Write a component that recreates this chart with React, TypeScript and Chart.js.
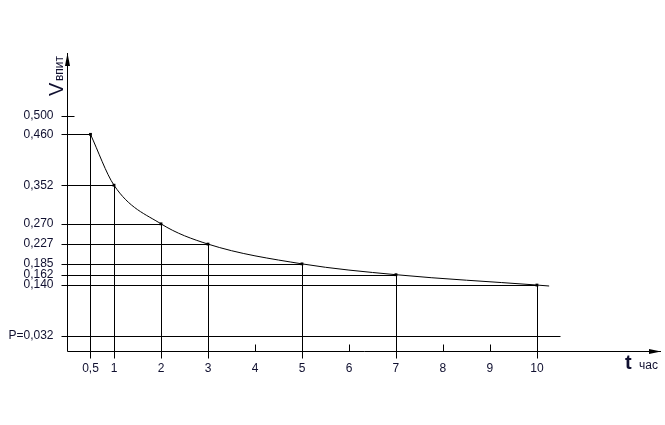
import React, { useEffect, useRef } from "react";
import { Chart, registerables } from "chart.js";

Chart.register(...registerables);

const timeValues = [0.5, 1, 2, 3, 5, 7, 10];
const rateValues = [0.46, 0.352, 0.27, 0.227, 0.185, 0.162, 0.14];
const curveTail = [10.26, 0.138];
const pValue = 0.032;
const pLineEnd = 10.5;
const yTickValues = [0.5, 0.46, 0.352, 0.27, 0.227, 0.185, 0.162, 0.14, 0.032];
const yTickLabels = ["0,500", "0,460", "0,352", "0,270", "0,227", "0,185", "0,162", "0,140", "P=0,032"];
const xTickValues = [0.5, 1, 2, 3, 4, 5, 6, 7, 8, 9, 10];
const xTickLabels = ["0,5", "1", "2", "3", "4", "5", "6", "7", "8", "9", "10"];
const minorXTicks = [4, 6, 8, 9];
const xMax = 12.64;
const yMax = 0.6327;

const TEXT = "#101030";
const FONT = "'Liberation Sans', Arial, sans-serif";

const drawPlugin = {
  id: "customAxes",
  beforeDatasetsDraw(chart: any) {
    const ctx = chart.ctx;
    const xs = chart.scales.x;
    const ys = chart.scales.y;
    const px = (v: number) => Math.round(xs.getPixelForValue(v)) + 0.5;
    const py = (v: number) => Math.round(ys.getPixelForValue(v)) + 0.5;
    const x0 = px(0);
    const y0 = py(0);
    ctx.save();
    ctx.strokeStyle = "#000";
    ctx.lineWidth = 1;
    ctx.beginPath();
    timeValues.forEach((t, i) => {
      const x = px(t);
      const y = py(rateValues[i]);
      ctx.moveTo(x0 - 6, y);
      ctx.lineTo(x, y);
      ctx.moveTo(x, y);
      ctx.lineTo(x, y0 + 7);
    });
    ctx.moveTo(x0 - 6, py(0.5));
    ctx.lineTo(x0 + 7, py(0.5));
    ctx.moveTo(x0 - 6, py(pValue));
    ctx.lineTo(px(pLineEnd), py(pValue));
    minorXTicks.forEach((t) => {
      ctx.moveTo(px(t), y0 - 7);
      ctx.lineTo(px(t), y0);
    });
    const top = chart.chartArea.top;
    const right = chart.chartArea.right;
    ctx.moveTo(x0, y0);
    ctx.lineTo(x0, top);
    ctx.moveTo(x0, y0);
    ctx.lineTo(right, y0);
    ctx.stroke();
    ctx.fillStyle = "#000";
    ctx.beginPath();
    ctx.moveTo(x0, top);
    ctx.lineTo(x0 - 2.5, top + 13);
    ctx.lineTo(x0 + 2.5, top + 13);
    ctx.closePath();
    ctx.fill();
    ctx.beginPath();
    ctx.moveTo(right, y0);
    ctx.lineTo(right - 12, y0 - 2.5);
    ctx.lineTo(right - 12, y0 + 2.5);
    ctx.closePath();
    ctx.fill();

    ctx.fillStyle = TEXT;
    ctx.font = `12px ${FONT}`;
    ctx.textAlign = "right";
    ctx.textBaseline = "middle";
    yTickValues.forEach((v, i) => {
      ctx.fillText(yTickLabels[i], x0 - 14, ys.getPixelForValue(v));
    });
    ctx.textAlign = "center";
    xTickValues.forEach((v, i) => {
      ctx.fillText(xTickLabels[i], xs.getPixelForValue(v), y0 + 17);
    });

    ctx.textAlign = "left";
    ctx.textBaseline = "alphabetic";
    ctx.save();
    ctx.translate(x0 - 5, 96);
    ctx.rotate(-Math.PI / 2);
    ctx.font = `20px ${FONT}`;
    ctx.fillText("V", 0, 0);
    ctx.font = `12px ${FONT}`;
    ctx.fillText("впит", 15, 0);
    ctx.restore();
    ctx.font = `bold 20px ${FONT}`;
    ctx.fillText("t", 625, y0 + 17);
    ctx.font = `12px ${FONT}`;
    ctx.fillText("час", 639, y0 + 17);
    ctx.restore();
  },
};

export default function App() {
  const ref = useRef<HTMLCanvasElement | null>(null);
  useEffect(() => {
    document.body.style.margin = "0";
    const canvas = ref.current!;
    const curveData = timeValues.map((t, i) => ({ x: t, y: rateValues[i] }));
    curveData.push({ x: curveTail[0], y: curveTail[1] });
    const pointRadii = curveData.map((_, i) => (i < timeValues.length ? 2 : 0));
    const chart = new Chart(canvas, {
      type: "line",
      data: {
        datasets: [
          {
            data: curveData,
            borderColor: "#000",
            borderWidth: 1,
            backgroundColor: "#000",
            cubicInterpolationMode: "monotone",
            pointStyle: "rect",
            pointRadius: pointRadii,
            pointBorderWidth: 0,
            fill: false,
          },
        ],
      },
      options: {
        animation: false,
        responsive: false,
        maintainAspectRatio: false,
        layout: { padding: { left: 67, top: 53, right: 4, bottom: 74 } },
        plugins: { legend: { display: false }, tooltip: { enabled: false } },
        scales: {
          x: { type: "linear", min: 0, max: xMax, display: false },
          y: { type: "linear", min: 0, max: yMax, display: false },
        },
      },
      plugins: [drawPlugin],
    });
    return () => chart.destroy();
  }, []);
  return (
    <div style={{ width: 665, height: 425, background: "#fff" }}>
      <canvas ref={ref} width={665} height={425} style={{ display: "block" }} />
    </div>
  );
}
